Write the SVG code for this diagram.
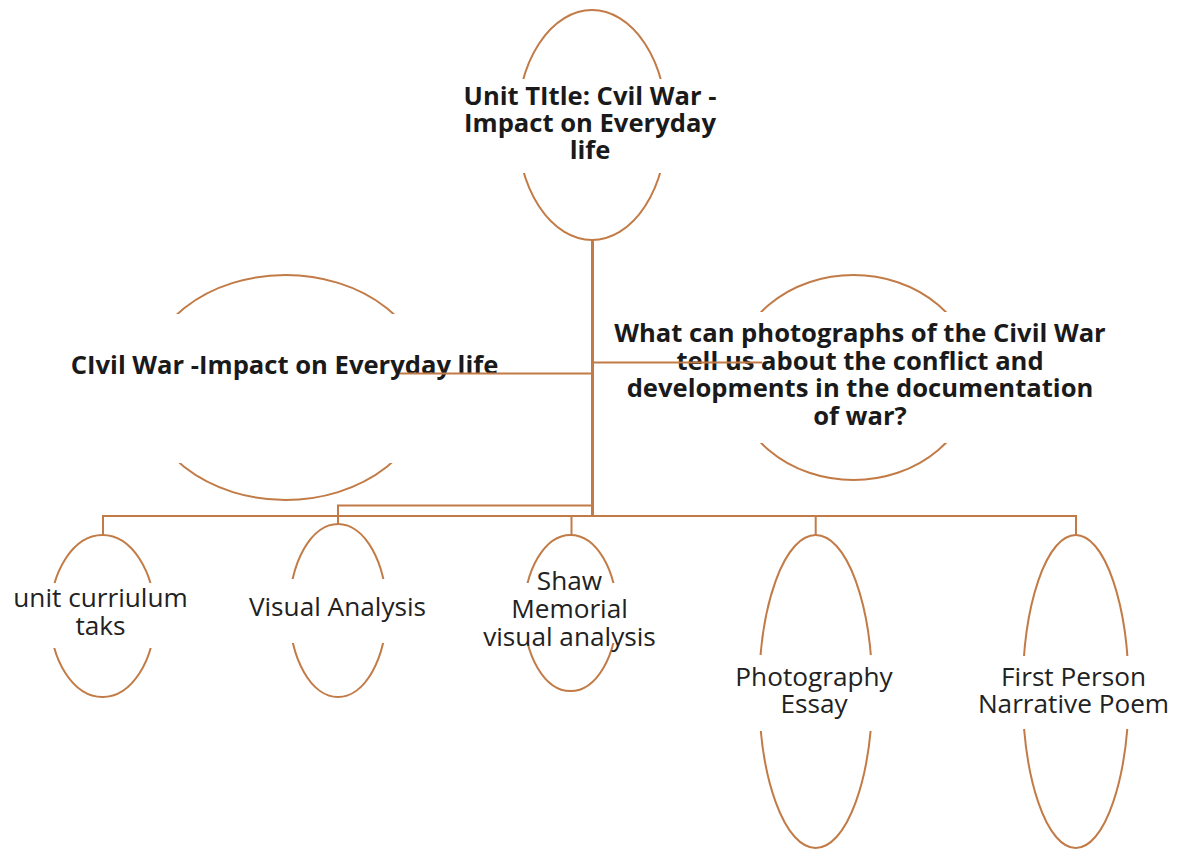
<svg xmlns="http://www.w3.org/2000/svg" width="1179" height="850" viewBox="0 0 1179 850">
<style>
.el{fill:none;stroke:#C27B46;stroke-width:2}
.band{fill:#ffffff;stroke:none}
.b{font-family:"Open Sans","Liberation Sans",sans-serif;font-weight:bold;font-size:25.6px;fill:#1a1a1a;text-anchor:middle}
.r{font-family:"Open Sans","Liberation Sans",sans-serif;font-size:26.2px;fill:#222222;text-anchor:middle}
.cn{fill:none;stroke:#C27B46;stroke-width:2}
.trunk{fill:none;stroke:#C27B46;stroke-width:3}
</style>
<rect width="1179" height="850" fill="#ffffff"/>
<g id="node-title">
<ellipse class="el" cx="592" cy="125" rx="75" ry="115"/>
<rect class="band" x="505" y="79" width="175" height="94"/>
<text class="b" x="590" y="105">Unit TItle: Cvil War -</text>
<text class="b" x="590" y="132">Impact on Everyday</text>
<text class="b" x="590" y="159">life</text>
</g>
<g id="node-left">
<ellipse class="el" cx="285.5" cy="387.5" rx="143" ry="112.5"/>
<rect class="band" x="135" y="314" width="300" height="149"/>
<text class="b" x="284.5" y="374">CIvil War -Impact on Everyday life</text>
</g>
<g id="node-question">
<ellipse class="el" cx="853.5" cy="377.5" rx="120" ry="102.5"/>
<rect class="band" x="725" y="312" width="260" height="131"/>
<text class="b" x="860" y="342">What can photographs of the Civil War</text>
<text class="b" x="860" y="370">tell us about the conflict and</text>
<text class="b" x="860" y="397">developments in the documentation</text>
<text class="b" x="860" y="425">of war?</text>
</g>
<g id="node-curriculum">
<ellipse class="el" cx="102.5" cy="616" rx="52.3" ry="81"/>
<rect class="band" x="45" y="583" width="116" height="65"/>
<text class="r" x="100.5" y="607">unit curriulum</text>
<text class="r" x="100.5" y="635">taks</text>
</g>
<g id="node-visual">
<ellipse class="el" cx="338" cy="610.5" rx="48.5" ry="86.5"/>
<rect class="band" x="285" y="579" width="107" height="64"/>
<text class="r" x="337.5" y="616">Visual Analysis</text>
</g>
<g id="node-shaw">
<ellipse class="el" cx="570.5" cy="613" rx="46.3" ry="78"/>
<rect class="band" x="520" y="583" width="101" height="60"/>
<text class="r" x="569.5" y="590">Shaw</text>
<text class="r" x="569.5" y="618">Memorial</text>
<text class="r" x="569.5" y="646">visual analysis</text>
</g>
<g id="node-photo">
<ellipse class="el" cx="815.7" cy="691.5" rx="56.6" ry="156.5"/>
<rect class="band" x="755" y="655" width="122" height="76"/>
<text class="r" x="814" y="686">Photography</text>
<text class="r" x="814" y="713">Essay</text>
</g>
<g id="node-poem">
<ellipse class="el" cx="1075.7" cy="691.5" rx="53" ry="156.5"/>
<rect class="band" x="1018" y="656" width="116" height="73"/>
<text class="r" x="1073.5" y="686">First Person</text>
<text class="r" x="1073.5" y="713">Narrative Poem</text>
</g>
<g id="connectors">
<line class="trunk" x1="592.5" y1="240" x2="592.5" y2="516"/>
<line class="cn" x1="400" y1="373.5" x2="592" y2="373.5"/>
<line class="cn" x1="593" y1="362.5" x2="762" y2="362.5"/>
<polyline class="cn" points="592,505.5 338,505.5 338,524"/>
<line class="cn" x1="102" y1="516" x2="1077" y2="516"/>
<line class="cn" x1="103" y1="515" x2="103" y2="535"/>
<line class="cn" x1="571.5" y1="515" x2="571.5" y2="535"/>
<line class="cn" x1="815.7" y1="515" x2="815.7" y2="535"/>
<line class="cn" x1="1076" y1="515" x2="1076" y2="535"/>
</g>
</svg>
